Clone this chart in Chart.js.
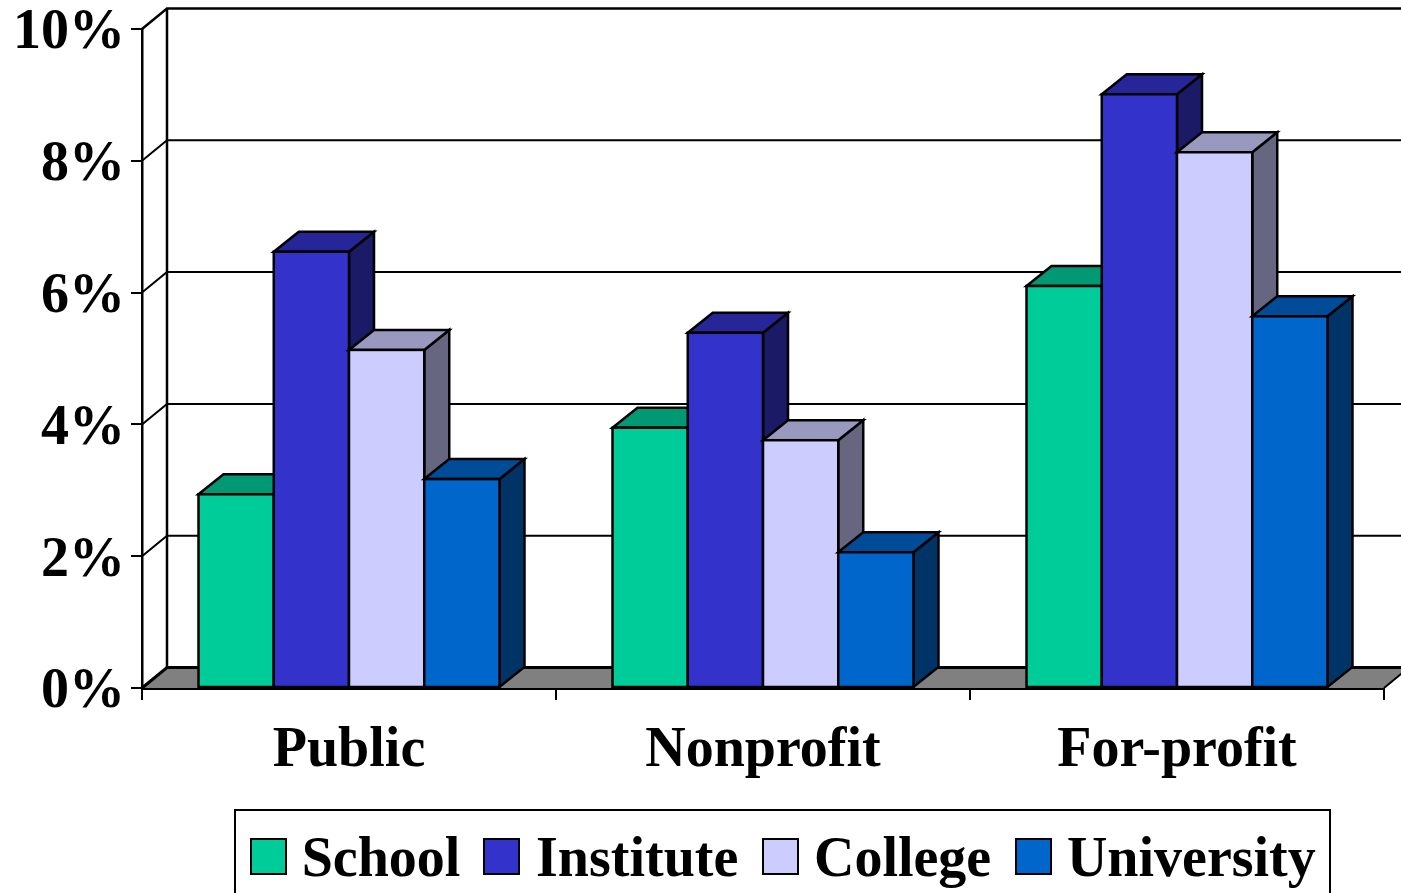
<!DOCTYPE html>
<html><head><meta charset="utf-8">
<style>html,body{margin:0;padding:0;background:#fff;overflow:hidden}canvas{display:block}</style>
<script src="https://cdn.jsdelivr.net/npm/chart.js@4"></script></head>
<body><canvas id="c" width="1401" height="893"></canvas>
<script>
const categories = ['Public','Nonprofit','For-profit'];
const seriesNames = ['School','Institute','College','University'];
const school = [2.94,3.95,6.10];
const institute = [6.62,5.39,9.01];
const college = [5.13,3.76,8.13];
const university = [3.17,2.06,5.64];
const frontColors = ['#00CC99','#3333CC','#CCCCFF','#0066CC'];
const topColors = ['#009973','#262699','#9999BF','#004C99'];
const sideColors = ['#006B50','#1A1A66','#666680','#003366'];
const yTicks = [0,2,4,6,8,10];
const FONT = {family:'"Liberation Serif"',size:56,weight:'bold'};
const DX=25, DY=-20, WALL_DY=-20.5, AXIS_LEFT=142, AREA_BOTTOM=688;
const LEGEND_LEFT=226, LEGEND_TOP=807;
const SWATCH_X=[251,484,763,1016];

function poly(ctx,pts,fill,stroke,lw){
  ctx.beginPath();pts.forEach((p,i)=>i?ctx.lineTo(p[0],p[1]):ctx.moveTo(p[0],p[1]));ctx.closePath();
  if(fill){ctx.fillStyle=fill;ctx.fill();}
  if(stroke){ctx.strokeStyle=stroke;ctx.lineWidth=lw;ctx.lineJoin='miter';ctx.stroke();}
}
const walls={id:'walls',
  beforeDatasetsDraw(chart){
    const {ctx,scales:{y},chartArea:a}=chart;
    ctx.save();
    ctx.strokeStyle='#000';
    poly(ctx,[[a.left,a.bottom],[a.left+DX,a.bottom+WALL_DY],[a.right+DX,a.bottom+WALL_DY],[a.right,a.bottom]],'#808080');
    yTicks.forEach(v=>{
      const py=y.getPixelForValue(v);
      ctx.lineWidth=v===0?3:(v===10?2.5:2);
      ctx.beginPath();ctx.moveTo(a.left,py);ctx.lineTo(a.left+DX,py+WALL_DY);ctx.lineTo(a.right+DX,py+WALL_DY);ctx.stroke();
    });
    ctx.lineWidth=2.5;
    ctx.beginPath();ctx.moveTo(a.left+DX,y.getPixelForValue(10)+WALL_DY);ctx.lineTo(a.left+DX,a.bottom+WALL_DY);ctx.stroke();
    ctx.lineWidth=2;
    ctx.beginPath();ctx.moveTo(a.right,a.bottom);ctx.lineTo(a.right+DX,a.bottom+WALL_DY);ctx.stroke();
    ctx.restore();
    // Left-to-right painting so each bar's front hides its neighbour's side.
    chart.data.datasets.forEach((ds,i)=>{
      const meta=chart.getDatasetMeta(i);
      meta.data.forEach(b=>{
        const l=b.x-b.width/2,r=b.x+b.width/2,t=b.y,bt=b.base;
        ctx.save();
        poly(ctx,[[r,bt],[r,t],[r+DX,t+DY],[r+DX,bt+DY]],sideColors[i],'#000',2.5);
        poly(ctx,[[l,t],[l+DX,t+DY],[r+DX,t+DY],[r,t]],topColors[i],'#000',2.5);
        ctx.restore();
      });
      meta.controller.draw();
      meta.data.forEach(b=>{
        ctx.save();ctx.strokeStyle='#000';ctx.lineWidth=2.5;
        ctx.strokeRect(b.x-b.width/2,b.y,b.width,b.base-b.y);
        ctx.restore();
      });
    });
  },
  beforeDatasetDraw(){ return false; },
  afterLayout(chart){
    const lg=chart.legend;
    lg.left=LEGEND_LEFT;lg.right=1401;lg.top=LEGEND_TOP;
  },
  afterDraw(chart){
    const {ctx}=chart;
    ctx.save();
    ctx.strokeStyle='#000';ctx.lineWidth=2;
    ctx.strokeRect(235,810,1095,120);
    ctx.restore();
    SWATCH_X.forEach((sx,i)=>{
      ctx.save();ctx.fillStyle=frontColors[i];ctx.strokeStyle='#000';ctx.lineWidth=2;
      ctx.fillRect(sx,839,35,35);ctx.strokeRect(sx,839,35,35);ctx.restore();
    });
  }
};
const mk=(i,d)=>({label:seriesNames[i],data:d,backgroundColor:frontColors[i],borderColor:'#000',borderWidth:0});
new Chart(document.getElementById('c'),{
  type:'bar',
  data:{labels:categories,datasets:[mk(0,school),mk(1,institute),mk(2,college),mk(3,university)]},
  plugins:[walls],
  options:{
    responsive:false,animation:false,devicePixelRatio:1,
    layout:{padding:{left:0,right:17,top:29,bottom:0}},
    datasets:{bar:{categoryPercentage:0.727,barPercentage:1}},
    plugins:{
      tooltip:{enabled:false},title:{display:false},
      legend:{position:'bottom',align:'start',labels:{boxWidth:21,boxHeight:21,padding:26.67,color:'#000',font:FONT}}
    },
    scales:{
      x:{
        offset:true,
        grid:{display:true,offset:true,drawOnChartArea:false,drawTicks:true,tickLength:12,color:'#000',lineWidth:2},
        border:{display:true,color:'#000',width:3},
        ticks:{color:'#000',font:FONT,padding:18,maxRotation:0,autoSkip:false},
        afterFit(s){s.height=893-AREA_BOTTOM-s.chart.legend.height;s.paddingLeft=0;s.paddingRight=0;}
      },
      y:{
        min:0,max:10,
        afterBuildTicks(s){s.ticks=yTicks.map(v=>({value:v}));},
        grid:{display:true,drawOnChartArea:false,drawTicks:true,tickLength:11,color:'#000',lineWidth:2},
        border:{display:true,color:'#000',width:2.5},
        ticks:{color:'#000',font:{family:'"Liberation Serif"',size:56,weight:'bold',lineHeight:10/56},padding:6,callback:v=>['',v+'%']},
        afterFit(s){s.width=AXIS_LEFT;s.paddingTop=0;s.paddingBottom=0;}
      }
    }
  }
});
</script></body></html>
